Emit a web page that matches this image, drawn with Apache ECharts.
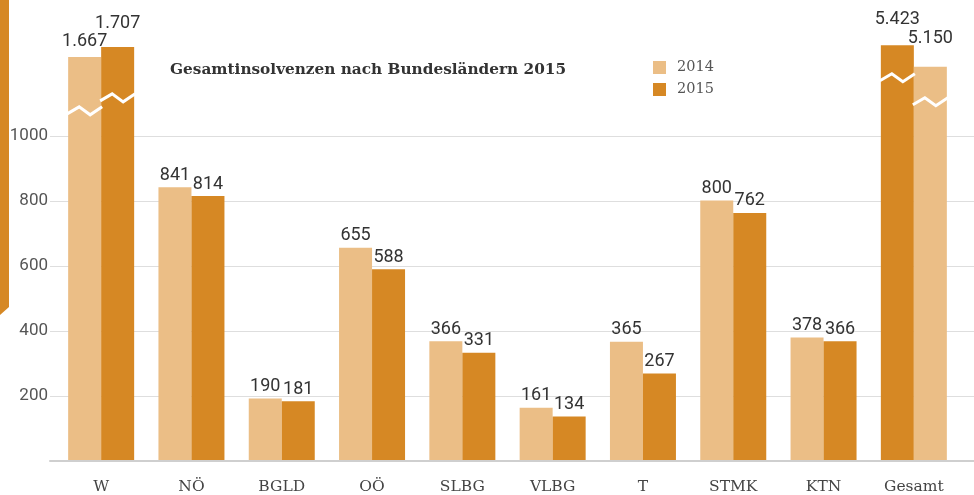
<!DOCTYPE html>
<html>
<head>
<meta charset="utf-8">
<script src="https://cdn.jsdelivr.net/npm/echarts@6/dist/echarts.min.js"></script>
<style>
    html, body { margin: 0; padding: 0; background: #fff; }
    #chart { width: 974px; height: 495px; }
</style>
</head>
<body>
<div id="chart"></div>
<script>
let categories = ["W", "NÖ", "BGLD", "OÖ", "SLBG", "VLBG", "T", "STMK", "KTN", "Gesamt"];
let values2014 = [1667, 841, 190, 655, 366, 161, 365, 800, 378, 5150];
let values2015 = [1707, 814, 181, 588, 331, 134, 267, 762, 366, 5423];
// drawn height of the truncated (broken) bars
let shown2014 = [1243, null, null, null, null, null, null, null, null, 1213];
let shown2015 = [1274, null, null, null, null, null, null, null, null, 1279];
// where the white zigzag sits on the broken bars
let break2014 = [1080, null, null, null, null, null, null, null, null, 1108];
let break2015 = [1120, null, null, null, null, null, null, null, null, 1182];
let yTicks = [200, 400, 600, 800, 1000];

const light = "#EBBE86";
const dark = "#D68824";
const barW = 33;
const last = categories.length - 1;
// label lift on the broken bars (px)
const labelDist2014 = { 0: 6, 9: 19 };
const labelDist2015 = { 0: 14, 9: 17 };

let chart = echarts.init(document.getElementById("chart"));

function fmt(v) {
    return String(v).replace(/\B(?=(\d{3})+(?!\d))/g, ".");
}

function item(values, shown, dist, i) {
    if (shown[i] == null) return values[i];
    return { value: shown[i], label: { distance: dist[i] } };
}

// Gesamt has 2015 on the left and 2014 on the right, so use stacks as slots
let left2014 = categories.map((c, i) => (i === last ? "-" : item(values2014, shown2014, labelDist2014, i)));
let right2015 = categories.map((c, i) => (i === last ? "-" : item(values2015, shown2015, labelDist2015, i)));
let left2015 = categories.map((c, i) => (i === last ? item(values2015, shown2015, labelDist2015, i) : "-"));
let right2014 = categories.map((c, i) => (i === last ? item(values2014, shown2014, labelDist2014, i) : "-"));

// break marks: [category, value, slot] slot -1 = left bar, 1 = right bar
let breaks = [];
categories.forEach((c, i) => {
    let l = i === last ? break2015[i] : break2014[i];
    let r = i === last ? break2014[i] : break2015[i];
    if (l != null) breaks.push([i, l, -1]);
    if (r != null) breaks.push([i, r, 1]);
});

let labelStyle = function (values) {
    return {
        show: true,
        position: "top",
        distance: 3,
        color: "#333",
        fontFamily: "Roboto",
        fontSize: 18,
        formatter: (p) => fmt(values[p.dataIndex]),
    };
};

function barSeries(name, stack, data, color, values) {
    return {
        name: name,
        type: "bar",
        stack: stack,
        xAxisIndex: 1,
        yAxisIndex: 1,
        barWidth: barW,
        barGap: "0%",
        data: data,
        itemStyle: { color: color },
        label: labelStyle(values),
    };
}

let options = {
    animation: false,
    textStyle: { fontFamily: "Roboto" },
    title: {
        text: "Gesamtinsolvenzen nach Bundesländern 2015",
        left: 165,
        top: 58,
        textStyle: {
            fontFamily: "DejaVu Serif",
            fontWeight: "bold",
            fontSize: 15.3,
            color: "#333",
        },
    },
    legend: {
        data: ["2014", "2015"],
        orient: "vertical",
        left: 648,
        top: 55,
        icon: "rect",
        itemWidth: 13,
        itemHeight: 13,
        itemGap: 7,
        textStyle: {
            fontFamily: "DejaVu Serif",
            fontSize: 14.5,
            color: "#555",
            padding: [0, 0, 0, 6],
        },
    },
    graphic: [
        {
            type: "polygon",
            shape: { points: [[0, 0], [9, 0], [9, 307], [0, 315]] },
            style: { fill: dark },
        },
    ],
    grid: [
        { left: 50, right: 0, top: 136, bottom: 34 },
        { left: 56, right: 15, top: 38.5, bottom: 34 },
    ],
    xAxis: [
        {
            gridIndex: 0,
            type: "value",
            min: 0,
            max: 1,
            axisLine: { show: true, lineStyle: { color: "#cfcfcf", width: 2 } },
            axisTick: { show: false },
            axisLabel: { show: false },
            splitLine: { show: false },
        },
        {
            gridIndex: 1,
            type: "category",
            data: categories,
            axisLine: { show: false },
            axisTick: { show: false },
            axisLabel: {
                margin: 19,
                fontFamily: "DejaVu Serif",
                fontSize: 15.5,
                color: "#444",
            },
        },
    ],
    yAxis: [
        {
            gridIndex: 0,
            type: "value",
            min: 0,
            max: yTicks[yTicks.length - 1],
            interval: 200,
            axisLine: { show: false },
            axisTick: { show: false },
            axisLabel: {
                margin: 2,
                fontFamily: "Roboto",
                fontSize: 17,
                color: "#555",
                formatter: (v) => (yTicks.indexOf(v) >= 0 ? String(v) : ""),
            },
            splitLine: { lineStyle: { color: "#dedede", width: 1 } },
        },
        {
            gridIndex: 1,
            type: "value",
            min: 0,
            max: 1300,
            show: false,
            splitLine: { show: false },
        },
    ],
    series: [
        barSeries("2014", "left", left2014, light, values2014),
        barSeries("2015", "right", right2015, dark, values2015),
        barSeries("2015", "left", left2015, dark, values2015),
        barSeries("2014", "right", right2014, light, values2014),
        {
            type: "custom",
            xAxisIndex: 1,
            yAxisIndex: 1,
            silent: true,
            z: 5,
            data: breaks,
            renderItem: function (params, api) {
                let p = api.coord([api.value(0), api.value(1)]);
                let x0 = api.value(2) < 0 ? p[0] - barW : p[0];
                let y = p[1];
                return {
                    type: "polyline",
                    shape: {
                        points: [
                            [x0 - 1, y + 4],
                            [x0 + barW / 3, y - 3],
                            [x0 + (2 * barW) / 3, y + 5],
                            [x0 + barW + 1, y - 3],
                        ],
                    },
                    style: { stroke: "#fff", lineWidth: 3, fill: null },
                };
            },
        },
    ],
};
chart.setOption(options);
</script>
</body>
</html>
